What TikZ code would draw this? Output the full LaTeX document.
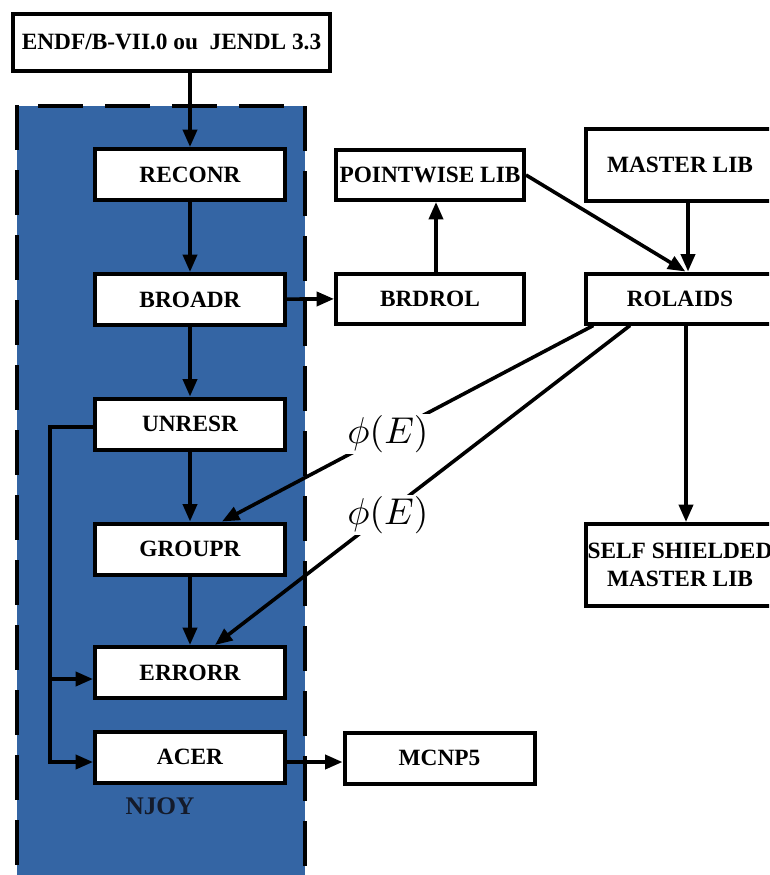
\documentclass[tikz,border=0pt]{standalone}
\usepackage[no-math]{fontspec}
\setmainfont{Liberation Serif}
\usetikzlibrary{arrows.meta,calc}
\definecolor{njoyblue}{HTML}{3465A4}
\definecolor{njoytext}{HTML}{141B2B}
\tikzset{
  box/.style={draw=black,line width=3pt,fill=white,inner sep=0pt,
    minimum width=142.5pt,minimum height=38.25pt,
    font=\fontsize{17.5}{20.5}\selectfont\bfseries,align=center},
  conn/.style={line width=2.7pt,-{Triangle[length=13pt,width=10.5pt]}},
  lbl/.style={fill=white,inner sep=0.4pt,scale=2.8},
  border/.style={line width=3pt,dash pattern=on 33.75pt off 15pt}
}
\begin{document}
\begin{tikzpicture}[x=0.75pt,y=-0.75pt]
\useasboundingbox (0,0) rectangle (769,875);
\clip (0,0) rectangle (769,875);
% NJOY region
\fill[njoyblue] (17,106) rectangle (305,890);
\draw[border] (17,105) -- (17,890);
\draw[border] (305,106) -- (305,890);
\draw[border,dash pattern=on 33.75pt off 16.5pt,dash phase=34.5pt] (17,106) -- (305,106);
% boxes
\node[box,minimum width=237.75pt,minimum height=42.75pt] (endf) at (171.5,42) {ENDF/B-VII.0 ou\ \ JENDL 3.3};
\node[box] (reconr) at (190,174.5) {RECONR};
\node[box] (broadr) at (190,299.5) {BROADR};
\node[box] (unresr) at (190,424) {UNRESR};
\node[box] (groupr) at (190,549) {GROUPR};
\node[box] (errorr) at (190,672.5) {ERRORR};
\node[box] (acer) at (190,757) {ACER};
\node[box] (mcnp) at (439.5,758) {MCNP5};
\node[box,minimum width=141pt,minimum height=37.5pt] (pointwise) at (430,175) {POINTWISE LIB};
\node[box,minimum width=141pt,minimum height=37.5pt] (brdrol) at (430,298.5) {BRDROL};
\node[box,minimum width=141pt,minimum height=54pt] (master) at (680,165) {MASTER LIB};
\node[box,minimum width=141pt,minimum height=37.5pt] (rolaids) at (680,298.5) {ROLAIDS};
\node[box,minimum width=141pt,minimum height=61.5pt] (self) at (680,565) {SELF SHIELDED\\MASTER LIB};
\node[font=\fontsize{19}{22}\selectfont\bfseries,text=njoytext] (njoy) at (160,806) {NJOY};
% connectors
\draw[conn] (reconr.north |- endf.south) -- (reconr.north);
\draw[conn] (reconr) -- (broadr);
\draw[conn] (broadr) -- (unresr);
\draw[conn] (unresr) -- (groupr);
\draw[conn] (groupr) -- (errorr);
\draw[conn] (broadr) -- (brdrol);
\draw[conn] ([xshift=4.5pt]brdrol.north) -- ([xshift=4.5pt]pointwise.south);
\draw[conn] (pointwise.east) -- ([xshift=4pt]rolaids.north);
\draw[conn] ([xshift=6pt]master.south) -- ([xshift=6pt]rolaids.north);
\draw[conn] ([xshift=4.5pt]rolaids.south) -- ([xshift=4.5pt]self.north);
\draw[conn] ([xshift=-65pt]rolaids.south) -- node[lbl,pos=0.553] (phi1) {$\phi(E)$} ([xshift=24pt]groupr.north);
\draw[conn] ([xshift=-37.5pt]rolaids.south) -- node[lbl,pos=0.594,xshift=1.2pt] (phi2) {$\phi(E)$} ([xshift=18.75pt]errorr.north);
\coordinate (busTop) at (50,427);
\coordinate (busErr) at (50,679);
\coordinate (busAcer) at (50,762);
\draw[conn,line join=miter] (unresr.west |- busTop) -- (busTop) -- (busAcer) -- (acer.west |- busAcer);
\draw[conn] (busErr) -- (errorr.west |- busErr);
\draw[conn] (acer.east |- busAcer) -- (mcnp.west |- busAcer);
\end{tikzpicture}
\end{document}
